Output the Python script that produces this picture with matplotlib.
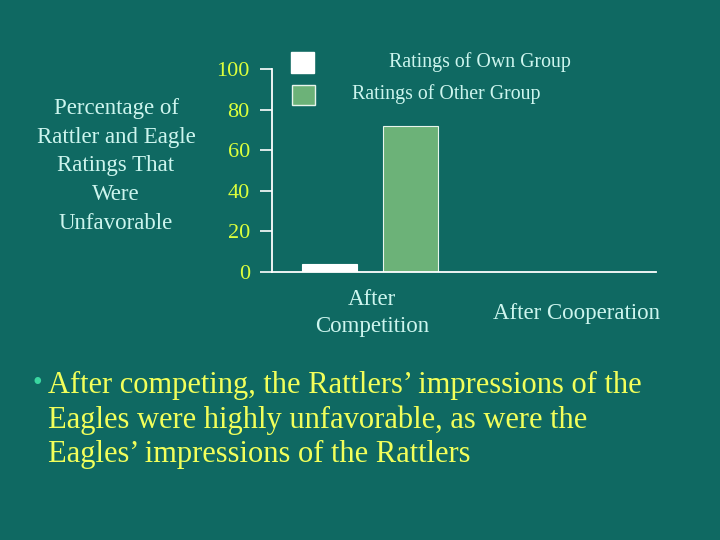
import matplotlib.pyplot as plt
from matplotlib.patches import Rectangle
from matplotlib.transforms import blended_transform_factory

plt.rcParams['font.family'] = ['Liberation Serif', 'DejaVu Serif']

categories = ["After\nCompetition", "After Cooperation"]
own_group = [4, None]
other_group = [72, None]
series_labels = ["Ratings of Own Group", "Ratings of Other Group"]
y_ticks = [0, 20, 40, 60, 80, 100]
y_label = "Percentage of\nRattler and Eagle\nRatings That\nWere\nUnfavorable"
bullet_text = ("After competing, the Rattlers\u2019 impressions of the\n"
               "Eagles were highly unfavorable, as were the\n"
               "Eagles\u2019 impressions of the Rattlers")

bg = '#0f6962'
light = '#cdf5ee'
yellow_tick = '#dcff3c'
yellow_text = '#f2ff5a'
green = '#6cb278'

fig = plt.figure(figsize=(7.2, 5.4), dpi=100)
fig.patch.set_facecolor(bg)

ax = fig.add_axes([272 / 720, 1 - 272 / 540, 384 / 720, 203 / 540])
ax.set_facecolor('none')

# bars, only the competition group has values
for i, (own, other) in enumerate(zip(own_group, other_group)):
    if own is not None:
        ax.bar(i - 0.21, own, width=0.27, color='white', edgecolor='white', linewidth=0.8)
    if other is not None:
        ax.bar(i + 0.19, other, width=0.27, color=green, edgecolor='#e8f5ec', linewidth=0.8)

ax.set_xlim(-0.49, 1.392)
ax.set_ylim(0, 100)
ax.set_yticks(y_ticks)
ax.set_yticklabels([str(t) for t in y_ticks], fontsize=16, color=yellow_tick)
ax.tick_params(axis='y', length=9, width=1.2, color='white', pad=7)
ax.set_xticks([])
for s in ['top', 'right']:
    ax.spines[s].set_visible(False)
for s in ['left', 'bottom']:
    ax.spines[s].set_color('white')
    ax.spines[s].set_linewidth(1.3)

# category labels under the axis
trans = blended_transform_factory(ax.transData, fig.transFigure)
for i, cat in enumerate(categories):
    ax.text(i, 1 - 313 / 540, cat, transform=trans, ha='center', va='center',
            fontsize=16.5, color=light, linespacing=1.37)

# y label block on the left
fig.text(116 / 720, 1 - 166 / 540, y_label, ha='center', va='center',
         fontsize=16.5, color=light, linespacing=1.49)

# legend
fig.patches.append(Rectangle((291 / 720, 1 - 73 / 540), 23 / 720, 21 / 540,
                             transform=fig.transFigure, facecolor='white', edgecolor='white'))
fig.patches.append(Rectangle((292 / 720, 1 - 105 / 540), 23 / 720, 20 / 540,
                             transform=fig.transFigure, facecolor=green, edgecolor='#e8f5ec'))
fig.text(480 / 720, 1 - 62 / 540, series_labels[0], ha='center', va='center',
         fontsize=14.3, color=light)
fig.text(446 / 720, 1 - 94 / 540, series_labels[1], ha='center', va='center',
         fontsize=14.3, color=light)

# bullet text
fig.text(32 / 720, 1 - 384 / 540, "\u2022", ha='left', va='center', fontsize=20, color='#3ad6a0')
fig.text(48 / 720, 1 - 420 / 540, bullet_text, ha='left', va='center',
         fontsize=22, color=yellow_text, linespacing=1.25)

fig.savefig('out.png', dpi=100, facecolor=bg)
